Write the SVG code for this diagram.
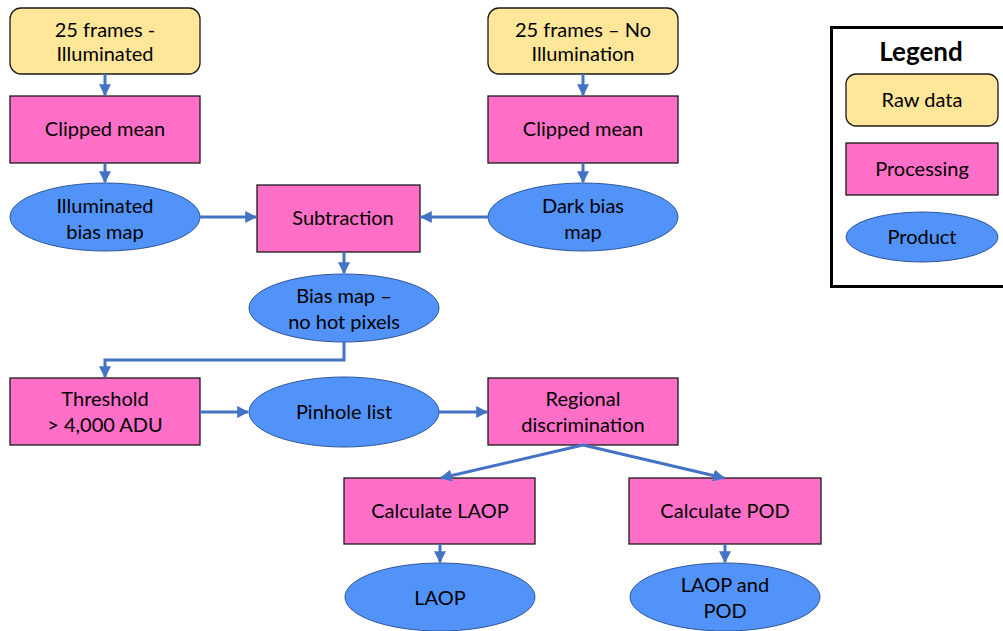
<svg xmlns="http://www.w3.org/2000/svg" width="1003" height="631" viewBox="0 0 1003 631">
<defs>
<marker id="ah" viewBox="0 0 10 10" refX="9" refY="5" markerWidth="4" markerHeight="4" markerUnits="strokeWidth" orient="auto">
<path d="M0,0 L10,5 L0,10 z" fill="#4472C4"/>
</marker>
<style>
.raw{fill:#FFE699;stroke:#1a1a1a;stroke-width:1.3}
.proc{fill:#FF6FC8;stroke:#1a1a1a;stroke-width:1.3}
.prod{fill:#5193F9;stroke:#2F5597;stroke-width:1}
.t{font-family:Lato,"Open Sans",sans-serif;font-size:20px;fill:#000;text-anchor:middle}
.c{fill:none;stroke:#4472C4;stroke-width:3;marker-end:url(#ah)}
</style>
</defs>
<rect width="1003" height="631" fill="#fff"/>
<g id="n_raw_ill"><rect class="raw" x="10" y="8" width="190" height="66" rx="11"/><text class="t" x="105" y="37">25 frames -</text><text class="t" x="105" y="61">Illuminated</text></g>
<g id="n_raw_dark"><rect class="raw" x="488" y="8" width="190" height="66" rx="11"/><text class="t" x="583" y="37">25 frames – No</text><text class="t" x="583" y="61">Illumination</text></g>
<g id="n_clip_ill"><rect class="proc" x="10" y="96" width="190" height="67"/><text class="t" x="105" y="136">Clipped mean</text></g>
<g id="n_clip_dark"><rect class="proc" x="488" y="96" width="190" height="67"/><text class="t" x="583" y="136">Clipped mean</text></g>
<g id="n_ill_map"><ellipse class="prod" cx="105" cy="217" rx="95" ry="34"/><text class="t" x="105" y="213">Illuminated</text><text class="t" x="105" y="239">bias map</text></g>
<g id="n_dark_map"><ellipse class="prod" cx="583" cy="217" rx="95" ry="34"/><text class="t" x="583" y="213">Dark bias</text><text class="t" x="583" y="239">map</text></g>
<g id="n_sub"><rect class="proc" x="257" y="185" width="163" height="67"/><text class="t" x="343" y="225">Subtraction</text></g>
<g id="n_bias"><ellipse class="prod" cx="344" cy="308" rx="95" ry="34"/><text class="t" x="344" y="303">Bias map –</text><text class="t" x="344" y="329">no hot pixels</text></g>
<g id="n_thr"><rect class="proc" x="10" y="378" width="190" height="67"/><text class="t" x="105" y="406">Threshold</text><text class="t" x="105" y="432">&gt; 4,000 ADU</text></g>
<g id="n_pin"><ellipse class="prod" cx="344" cy="412" rx="95" ry="35"/><text class="t" x="344" y="419">Pinhole list</text></g>
<g id="n_reg"><rect class="proc" x="488" y="378" width="190" height="67"/><text class="t" x="583" y="406">Regional</text><text class="t" x="583" y="432">discrimination</text></g>
<g id="n_calc_laop"><rect class="proc" x="344" y="478" width="191" height="66"/><text class="t" x="440" y="518">Calculate LAOP</text></g>
<g id="n_calc_pod"><rect class="proc" x="629" y="478" width="192" height="66"/><text class="t" x="725" y="518">Calculate POD</text></g>
<g id="n_laop"><ellipse class="prod" cx="440" cy="597" rx="95" ry="34"/><text class="t" x="440" y="605">LAOP</text></g>
<g id="n_laop_pod"><ellipse class="prod" cx="725" cy="597" rx="95" ry="34"/><text class="t" x="725" y="592">LAOP and</text><text class="t" x="725" y="618">POD</text></g>
<g id="legend">
<rect x="831.5" y="27.5" width="180" height="259" fill="#fff" stroke="#000" stroke-width="3"/>
<text x="921" y="61" style="font-family:Lato,'Open Sans',sans-serif;font-size:26px;font-weight:bold;text-anchor:middle">Legend</text>
<rect class="raw" x="846" y="74" width="152" height="52" rx="10"/><text class="t" x="922" y="107">Raw data</text>
<rect class="proc" x="846" y="143" width="152" height="52"/><text class="t" x="922" y="176">Processing</text>
<ellipse class="prod" cx="922" cy="237" rx="76" ry="25"/><text class="t" x="922" y="244">Product</text>
</g>
<g id="connectors">
<line class="c" x1="105" y1="74" x2="105" y2="95"/>
<line class="c" x1="583" y1="74" x2="583" y2="95"/>
<line class="c" x1="105" y1="163" x2="105" y2="182"/>
<line class="c" x1="583" y1="163" x2="583" y2="182"/>
<line class="c" x1="200" y1="217" x2="256" y2="217"/>
<line class="c" x1="488" y1="217" x2="421" y2="217"/>
<line class="c" x1="344" y1="252" x2="344" y2="273"/>
<polyline class="c" points="344,342 344,360 105,360 105,377"/>
<line class="c" x1="200" y1="412" x2="248" y2="412"/>
<line class="c" x1="439" y1="412" x2="487" y2="412"/>
<line class="c" x1="583" y1="445" x2="441" y2="478"/>
<line class="c" x1="583" y1="445" x2="724" y2="478"/>
<line class="c" x1="440" y1="544" x2="440" y2="562"/>
<line class="c" x1="725" y1="544" x2="725" y2="562"/>
</g>
</svg>
